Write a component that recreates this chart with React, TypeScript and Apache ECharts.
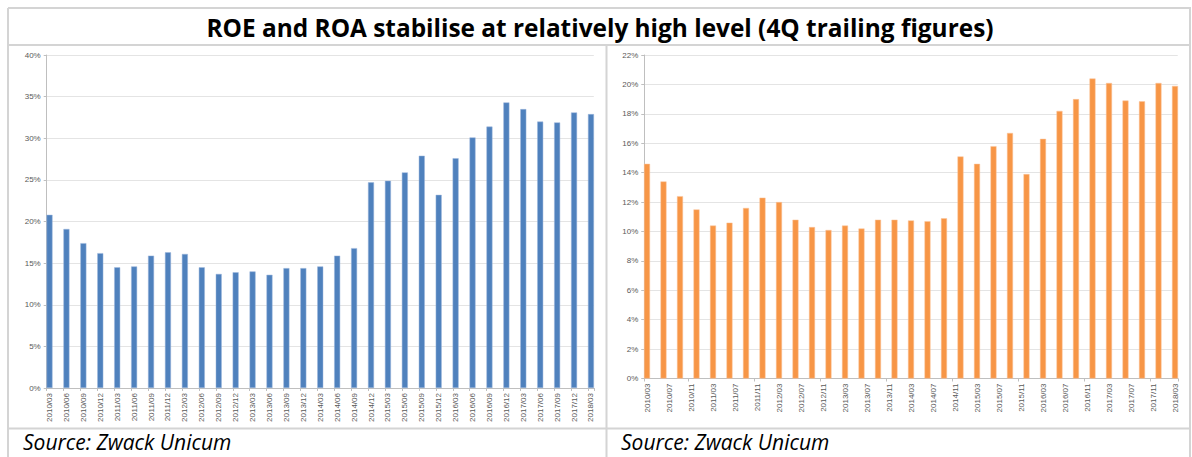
import React, { useEffect, useRef } from "react";
import * as echarts from "echarts";

const TITLE = "ROE and ROA stabilise at relatively high level (4Q trailing figures)";
const SOURCE = "Source: Zwack Unicum";

const quarters = [
  "2010/03", "2010/06", "2010/09", "2010/12",
  "2011/03", "2011/06", "2011/09", "2011/12",
  "2012/03", "2012/06", "2012/09", "2012/12",
  "2013/03", "2013/06", "2013/09", "2013/12",
  "2014/03", "2014/06", "2014/09", "2014/12",
  "2015/03", "2015/06", "2015/09", "2015/12",
  "2016/03", "2016/06", "2016/09", "2016/12",
  "2017/03", "2017/06", "2017/09", "2017/12",
  "2018/03",
];

const roe = [
  20.8, 19.1, 17.4, 16.2,
  14.5, 14.6, 15.9, 16.3,
  16.1, 14.5, 13.7, 13.9,
  14.0, 13.6, 14.4, 14.4,
  14.6, 15.9, 16.8, 24.7,
  24.9, 25.9, 27.9, 23.2,
  27.6, 30.1, 31.4, 34.3,
  33.5, 32.0, 31.9, 33.1,
  32.9,
];

const roa = [
  14.6, 13.4, 12.4, 11.5,
  10.4, 10.6, 11.6, 12.3,
  12.0, 10.8, 10.3, 10.1,
  10.4, 10.2, 10.8, 10.8,
  10.75, 10.7, 10.9, 15.1,
  14.6, 15.8, 16.7, 13.9,
  16.3, 18.2, 19.0, 20.4,
  20.1, 18.9, 18.85, 20.1,
  19.9,
];

// monthly date-axis categories (Excel date axis, base unit = month)
const firstMonth = { year: 2010, month: 3 };
const lastMonth = { year: 2018, month: 3 };

function buildMonths(): string[] {
  const out: string[] = [];
  let y = firstMonth.year;
  let m = firstMonth.month;
  while (y < lastMonth.year || (y === lastMonth.year && m <= lastMonth.month)) {
    out.push(`${y}/${m < 10 ? "0" + m : m}`);
    m += 1;
    if (m > 12) {
      m = 1;
      y += 1;
    }
  }
  return out;
}

const months = buildMonths();

function toMonthly(values: number[]) {
  return months.map((mo) => {
    const q = quarters.indexOf(mo);
    return q >= 0 ? values[q] : "-";
  });
}

const LABEL_FONT = "Liberation Sans";
const AXIS_COLOR = "#bfbfbf";
const TEXT_COLOR = "#595959";
const GRID_COLOR = "#e4e4e4";
const BORDER_COLOR = "#d4d4d4";

export default function App() {
  const ref = useRef<HTMLDivElement>(null);

  useEffect(() => {
    if (!ref.current) return;
    const chart = echarts.init(ref.current, undefined, { renderer: "svg" });

    const xAxisBase = (labelInterval: number, tickInterval: (i: number) => boolean) => ({
      type: "category" as const,
      data: months,
      boundaryGap: true,
      axisLine: { show: true, lineStyle: { color: AXIS_COLOR, width: 1 } },
      axisTick: {
        show: true,
        length: 3,
        interval: (i: number) => tickInterval(i),
        lineStyle: { color: AXIS_COLOR },
      },
      axisLabel: {
        interval: labelInterval,
        rotate: 90,
        fontSize: 8,
        fontFamily: LABEL_FONT,
        color: TEXT_COLOR,
        margin: 5,
      },
      splitLine: { show: false },
    });

    const yAxisBase = (max: number, interval: number) => ({
      type: "value" as const,
      min: 0,
      max,
      interval,
      axisLine: { show: true, lineStyle: { color: AXIS_COLOR, width: 1 } },
      axisTick: { show: true, length: 3, lineStyle: { color: AXIS_COLOR } },
      axisLabel: {
        formatter: "{value}%",
        fontSize: 8,
        fontFamily: LABEL_FONT,
        color: TEXT_COLOR,
        margin: 6,
      },
      splitLine: { show: true, lineStyle: { color: GRID_COLOR, width: 1 } },
    });

    const hline = (x1: number, x2: number, y: number) => ({
      type: "line",
      shape: { x1, y1: y, x2, y2: y },
      style: { stroke: BORDER_COLOR, lineWidth: 2 },
      silent: true,
    });
    const vline = (x: number, y1: number, y2: number) => ({
      type: "line",
      shape: { x1: x, y1, x2: x, y2 },
      style: { stroke: BORDER_COLOR, lineWidth: 2 },
      silent: true,
    });

    const sourceText = (x: number) => ({
      type: "text",
      x,
      y: 442,
      style: {
        text: SOURCE,
        fill: "#000000",
        fontSize: 21,
        lineHeight: 22,
        fontStyle: "italic",
        fontFamily: "Open Sans",
        align: "left",
        verticalAlign: "middle",
      },
    });

    chart.setOption({
      animation: false,
      backgroundColor: "#ffffff",
      grid: [
        { left: 46.7, top: 55, width: 547.1, height: 333 },
        { left: 644.25, top: 55, width: 533.5, height: 323.5 },
      ],
      xAxis: [
        { ...xAxisBase(2, (i) => i % 3 === 0), gridIndex: 0 },
        { ...xAxisBase(3, (i) => i % 12 === 8 || i === 0), gridIndex: 1 },
      ],
      yAxis: [
        { ...yAxisBase(40, 5), gridIndex: 0 },
        { ...yAxisBase(22, 2), gridIndex: 1 },
      ],
      series: [
        {
          name: "ROE",
          type: "bar",
          xAxisIndex: 0,
          yAxisIndex: 0,
          data: toMonthly(roe),
          barWidth: 6,
          itemStyle: { color: "#4f81bd", borderColor: "#9db7dc", borderWidth: 0.5 },
        },
        {
          name: "ROA",
          type: "bar",
          xAxisIndex: 1,
          yAxisIndex: 1,
          data: toMonthly(roa),
          barWidth: 6,
          itemStyle: { color: "#f79646", borderColor: "#fbc59c", borderWidth: 0.5 },
        },
      ],
      graphic: [
        hline(8, 1191, 8),
        hline(8, 1191, 45),
        hline(8, 1191, 428.5),
        vline(8, 8, 457),
        vline(606.5, 45, 457),
        vline(1190, 8, 457),
        {
          type: "text",
          x: 600,
          y: 27,
          style: {
            text: TITLE,
            fill: "#000000",
            fontSize: 24.4,
            fontWeight: "bold",
            fontFamily: "Open Sans",
            align: "center",
            verticalAlign: "middle",
          },
        },
        sourceText(23),
        sourceText(621),
      ],
    });

    return () => {
      chart.dispose();
    };
  }, []);

  return (
    <div
      ref={ref}
      style={{ position: "absolute", left: 0, top: 0, width: 1192, height: 457 }}
    />
  );
}
